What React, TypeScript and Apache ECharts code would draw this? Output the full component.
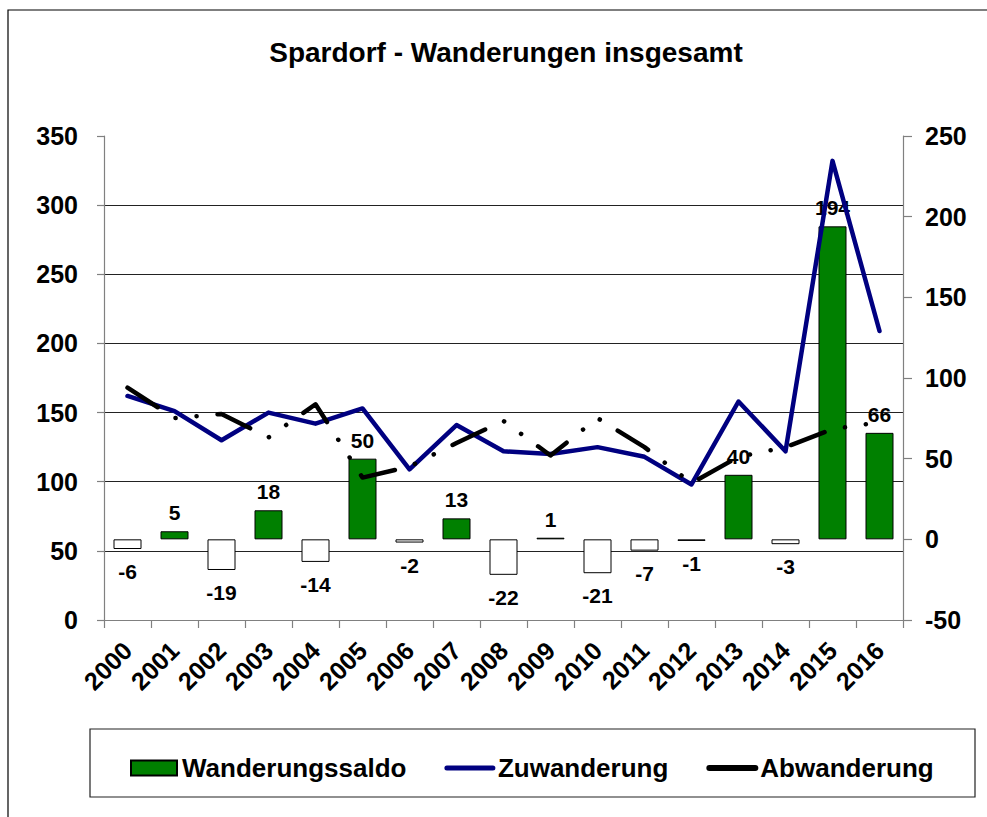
import React, { useEffect, useRef } from "react";
import * as echarts from "echarts";

const years = ["2000", "2001", "2002", "2003", "2004", "2005", "2006", "2007", "2008", "2009", "2010", "2011", "2012", "2013", "2014", "2015", "2016"];
const saldo = [-6, 5, -19, 18, -14, 50, -2, 13, -22, 1, -21, -7, -1, 40, -3, 194, 66];
const zuwanderung = [162, 151, 130, 150, 142, 153, 109, 141, 122, 120, 125, 118, 98, 158, 122, 332, 209];
const abwanderung = [168, 146, 149, 132, 156, 103, 111, 128, 144, 119, 146, 125, 99, 118, 125, 138, 143];
const leftTicks = [0, 350, 50];
const rightTicks = [-50, 250, 50];
const titleText = "Spardorf - Wanderungen insgesamt";

const FONT = "'Liberation Sans', Arial, sans-serif";

export default function App() {
  const ref = useRef<HTMLDivElement>(null);
  useEffect(() => {
    if (!ref.current) return;
    const chart = echarts.init(ref.current, null, { renderer: "svg" });
    const barData = saldo.map((v) => ({
      value: v,
      itemStyle: v < 0 ? { color: "#ffffff" } : { color: "#008000" },
      label: { position: v < 0 ? "bottom" : "top", distance: v < 0 ? 12 : 8 },
    }));
    chart.setOption({
      animation: false,
      backgroundColor: "#ffffff",
      textStyle: { fontFamily: FONT },
      graphic: [
        {
          type: "rect",
          shape: { x: 8, y: 10, width: 1100, height: 1000 },
          style: { fill: "none", stroke: "#000", lineWidth: 1.2 },
          silent: true,
        },
        {
          type: "rect",
          shape: { x: 90, y: 729, width: 885, height: 68 },
          style: { fill: "none", stroke: "#222", lineWidth: 1.2 },
          silent: true,
        },
        {
          type: "text",
          x: 506,
          y: 52,
          style: {
            text: titleText,
            font: `bold 28px ${FONT}`,
            fill: "#000",
            textAlign: "center",
            textVerticalAlign: "middle",
          },
        },
      ],
      legend: {
        left: 125,
        top: 750,
        itemWidth: 46,
        itemHeight: 15,
        itemGap: 38,
        textStyle: { fontFamily: FONT, fontWeight: "bold", fontSize: 26, color: "#000", padding: [0, 0, 0, 0] },
        data: [
          { name: "Wanderungssaldo", icon: "rect" },
          { name: "Zuwanderung", lineStyle: { width: 5 }, itemStyle: { opacity: 0 } },
          { name: "Abwanderung", lineStyle: { type: "solid", width: 6 }, itemStyle: { opacity: 0 } },
        ],
      },
      grid: { left: 104, right: 84, top: 136, bottom: 197, containLabel: false },
      xAxis: {
        type: "category",
        data: years,
        boundaryGap: true,
        axisLine: { onZero: false, lineStyle: { color: "#808080", width: 1.2 } },
        axisTick: { show: true, length: 8, lineStyle: { color: "#808080", width: 1.2 } },
        axisLabel: {
          rotate: 45,
          margin: 26,
          fontFamily: FONT,
          fontWeight: "bold",
          fontSize: 25,
          color: "#000",
        },
      },
      yAxis: [
        {
          type: "value",
          min: leftTicks[0],
          max: leftTicks[1],
          interval: leftTicks[2],
          position: "left",
          axisLine: { show: true, lineStyle: { color: "#808080", width: 1.2 } },
          axisTick: { show: true, length: 7, lineStyle: { color: "#808080", width: 1.2 } },
          axisLabel: { margin: 26, fontFamily: FONT, fontWeight: "bold", fontSize: 25, color: "#000" },
          splitLine: { show: true, showMinLine: false, showMaxLine: false, lineStyle: { color: "#222", width: 1 } },
        },
        {
          type: "value",
          min: rightTicks[0],
          max: rightTicks[1],
          interval: rightTicks[2],
          position: "right",
          axisLine: { show: true, lineStyle: { color: "#808080", width: 1.2 } },
          axisTick: { show: true, length: 9, lineStyle: { color: "#808080", width: 1.2 } },
          axisLabel: { margin: 22, fontFamily: FONT, fontWeight: "bold", fontSize: 25, color: "#000" },
          splitLine: { show: false },
        },
      ],
      series: [
        {
          name: "Wanderungssaldo",
          type: "bar",
          yAxisIndex: 1,
          barWidth: 28,
          data: barData,
          itemStyle: { color: "#008000", borderColor: "#000", borderWidth: 1 },
          label: {
            show: true,
            fontFamily: FONT,
            fontWeight: "bold",
            fontSize: 21,
            color: "#000",
          },
          z: 2,
        },
        {
          name: "Zuwanderung",
          type: "line",
          yAxisIndex: 0,
          data: zuwanderung,
          symbol: "none",
          lineStyle: { color: "#000080", width: 4.5, cap: "round", join: "round" },
          itemStyle: { color: "#000080" },
          z: 3,
        },
        {
          name: "Abwanderung",
          type: "line",
          yAxisIndex: 0,
          data: abwanderung,
          symbol: "none",
          lineStyle: {
            color: "#000",
            width: 4.5,
            type: [36, 21, 0.1, 21, 0.1, 21],
            cap: "round",
            join: "round",
          },
          itemStyle: { color: "#000" },
          z: 3,
        },
      ],
    });
    return () => chart.dispose();
  }, []);
  return (
    <div
      ref={ref}
      style={{ position: "fixed", left: 0, top: 0, width: 987, height: 817, background: "#fff" }}
    />
  );
}
